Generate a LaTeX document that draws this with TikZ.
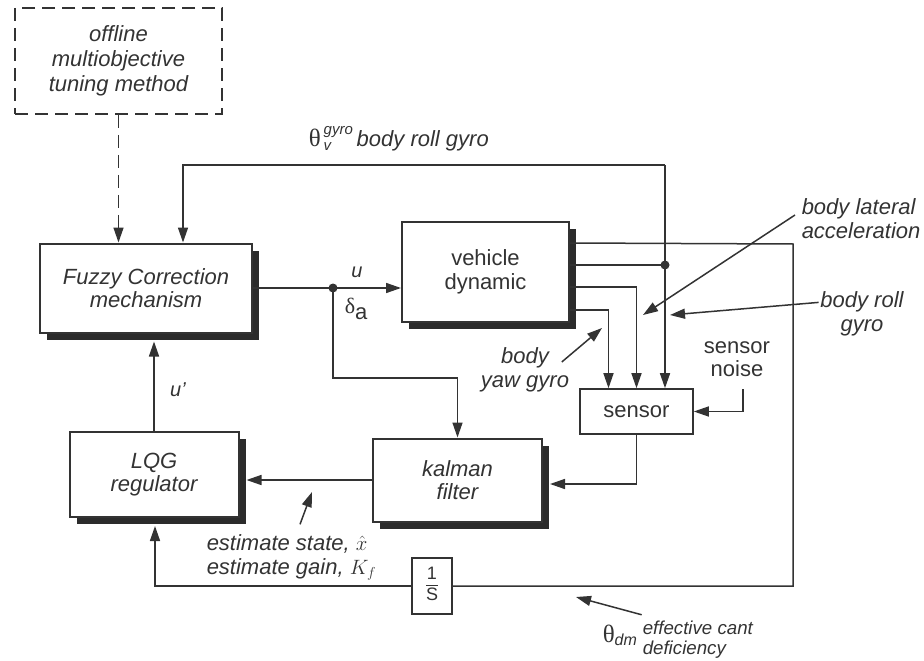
\documentclass[tikz,border=0pt]{standalone}
\usepackage{fontspec}
\setmainfont{Liberation Sans}
\newfontfamily\grk{Liberation Serif}
\usetikzlibrary{arrows.meta,calc,shadows,positioning}
\definecolor{ink}{rgb}{0.2,0.2,0.2}
\definecolor{shade}{rgb}{0.17,0.17,0.17}
\setlength{\arrayrulewidth}{1.2pt}

\begin{document}
\begin{tikzpicture}[x=1pt,y=-1pt,color=ink,line width=1.5pt,>={Triangle[length=15pt,width=10pt]},
    blk/.style={draw,fill=white,line width=2pt,align=center,inner sep=0pt,font=\fontsize{22}{23.5}\selectfont,
      drop shadow={shadow xshift=7pt,shadow yshift=-7pt,fill=shade,opacity=1}},
    tune/.style={draw,line width=1.6pt,dash pattern=on 13pt off 7pt,align=center,font=\fontsize{22}{25}\selectfont\itshape},
    lbl/.style={align=center,inner sep=1pt,font=\fontsize{22}{24}\selectfont\itshape},
    dot/.style={circle,fill=ink,inner sep=0pt,minimum size=9pt}]
    \useasboundingbox (0,0) rectangle (924,661);

    % blocks
    \node[tune,minimum width=207pt,minimum height=106pt] (offl) at (118.5,61) {offline\\multiobjective\\tuning method};
    \node[blk,minimum width=212pt,minimum height=89pt] (fuzzy) at (146,288) {\itshape Fuzzy Correction\\\itshape mechanism};
    \node[blk,minimum width=167pt,minimum height=100pt] (veh) at (485.5,272) {vehicle\\dynamic};
    \node[blk,minimum width=169pt,minimum height=83pt] (kal) at (457.5,480) {\itshape kalman\\\itshape filter};
    \node[blk,minimum width=169pt,minimum height=85pt] (lqg) at (154,474.5) {\itshape LQG\\\itshape regulator};
    \node[draw,fill=white,line width=1.6pt,minimum width=113pt,minimum height=45pt,font=\fontsize{22}{24}\selectfont] (sens) at (636.5,411.5) {sensor};
    \node[draw,fill=white,line width=1.6pt,minimum width=40pt,minimum height=56pt,inner sep=0pt,font=\fontsize{18}{20}\selectfont] (integ) at (432,586) {\begin{tabular}{@{}c@{}}1\\[-1pt]\hline S\end{tabular}};
    \node[align=center,inner sep=1pt,font=\fontsize{22}{23}\selectfont] (noise) at (737,359.5) {sensor\\noise};

    \coordinate (dlt) at (333,288);
    \coordinate (fbk) at (665,165);
    \coordinate (cdm) at (793,244);
    \coordinate (nz) at (743,389);
    \coordinate (kbend) at (457.5,378);
    \coordinate (p1) at ($(veh.north east)+(0,22)$);
    \coordinate (p2) at ($(veh.north east)+(0,44)$);
    \coordinate (p3) at ($(veh.north east)+(0,66)$);
    \coordinate (p4) at ($(veh.north east)+(0,89)$);

    % signal paths
    \draw[->,dash pattern=on 13pt off 7pt] (offl.south) -- (offl.south |- fuzzy.north);
    \draw (fuzzy.east |- dlt) -- (dlt);
    \draw[->] (dlt) -- (veh.west |- dlt);
    \node[dot] (jdlt) at (dlt) {};
    \draw[->] (dlt) |- (kbend) -- (kal.north);
    \draw (p1) -- (cdm) |- (integ.east);
    \draw[->] (integ.west) -| ($(lqg.south)+(1,8)$);
    \draw (p2) -- (p2 -| fbk) node[dot] (jfb) {};
    \draw[->] (fbk) -- (fbk |- sens.north);
    \draw[->] (fbk) -| ($(fuzzy.north)+(37,0)$);
    \draw[->] (p3) -| (sens.north);
    \draw[->] (p4) -| ($(sens.north)+(-28,0)$);
    \draw[->] (nz) |- (sens.east);
    \draw[->] (sens.south) |- ($(kal.east)+(7,4)$);
    \draw[->] (kal.west) -- ($(lqg.east |- kal.west)+(7,0)$);
    \draw[->] (lqg.north) -- ($(lqg.north |- fuzzy.south)+(0,8)$);

    % labels
    \node[lbl,font=\fontsize{20}{20}\selectfont\itshape] (ulbl) at (357,272) {u};
    \node[inner sep=1pt,font=\fontsize{22}{22}\selectfont,anchor=base west] (dlbl) at (343,313) {{\grk δ}\raisebox{-6pt}{a}};
    \node[lbl,font=\fontsize{20}{20}\selectfont\itshape] (uplbl) at (178,390) {u{\char"27}};
    \node[lbl,anchor=base west] (gyrolbl) at (307,146) {{\upshape\grk\fontsize{25}{25}\selectfont θ}\hspace{3pt}\rlap{\raisebox{12pt}{\fontsize{15}{15}\selectfont gyro}}\makebox[33pt][l]{\raisebox{-5pt}{\fontsize{15}{15}\selectfont v}}body roll gyro};
    \node[lbl,anchor=west,align=left] (latlbl) at (800,219) {body lateral\\acceleration};
    \node[lbl] (rolllbl) at (862,314) {body roll\\gyro};
    \node[lbl] (yawlbl) at (525,370) {body\\yaw gyro};
    \node[lbl,anchor=west,align=left] (estlbl) at (205,557) {estimate state, $\hat{x}$\\estimate gain, $K_f$};
    \node[inner sep=1pt,anchor=base west] (dmlbl) at (601,642) {{\grk\fontsize{25}{25}\selectfont θ}\raisebox{-3pt}{\fontsize{16}{16}\selectfont\itshape dm}};
    \node[lbl,anchor=west,align=left,font=\fontsize{18.7}{20}\selectfont\itshape] (cantlbl) at (641,640) {effective cant\\deficiency};

    % pointers
    \coordinate (lath) at (643,315);
    \coordinate (rollh) at (670,315);
    \coordinate (yawh) at (602,328);
    \coordinate (esth) at (312,492);
    \coordinate (dmh) at (576,597);
    \draw[->] ($(latlbl.west)+(-5,-4)$) -- (lath);
    \draw[->] (rolllbl.165) -- (rollh);
    \draw[->] ($(yawlbl.east)+(-9,-8)$) -- (yawh);
    \draw[->] ($(estlbl.north west)+(95,-8)$) -- (esth);
    \draw[->] ($(dmlbl.north east)+(3,-8)$) -- (dmh);
\end{tikzpicture}
\end{document}
